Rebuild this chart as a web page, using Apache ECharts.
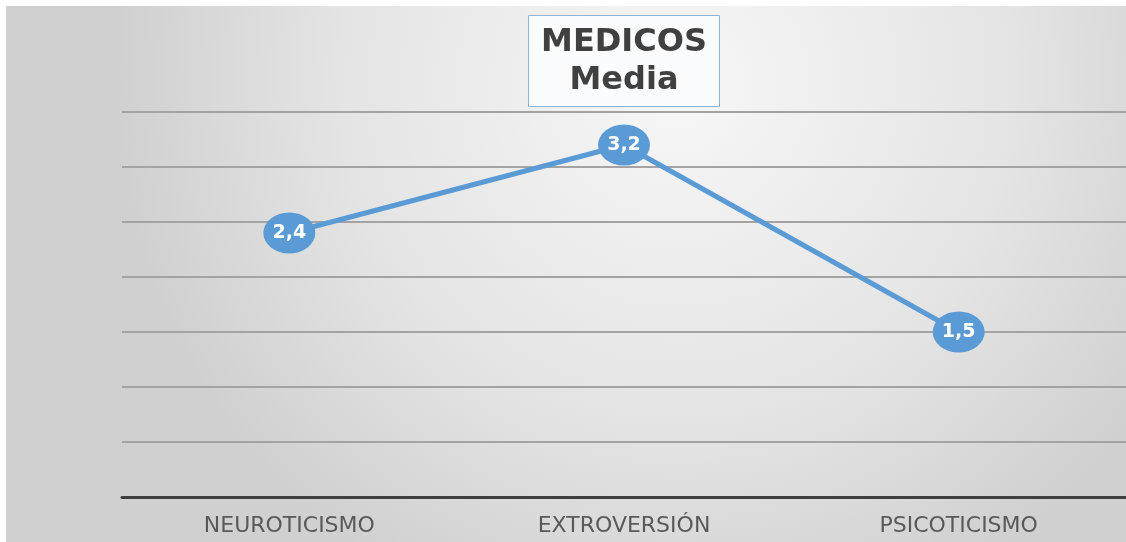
<!DOCTYPE html>
<html>
<head>
<meta charset="utf-8">
<script src="https://cdn.jsdelivr.net/npm/echarts@6/dist/echarts.min.js"></script>
<style>
  html, body { margin: 0; padding: 0; background: #fff; }
  #chart { position: absolute; left: 6px; top: 6px; width: 1120px; height: 536px; }
</style>
</head>
<body>
<div id="chart"></div>
<script>
const categories = ['NEUROTICISMO', 'EXTROVERSIÓN', 'PSICOTICISMO'];
const media = [2.4, 3.2, 1.5];
const titleLines = ['MEDICOS', 'Media'];

const myChart = echarts.init(document.getElementById('chart'));

const option = {
  backgroundColor: {
    type: 'radial', x: 0.6, y: 0.15, r: 1.05,
    colorStops: [
      { offset: 0, color: '#f7f7f7' },
      { offset: 0.6, color: '#e4e4e4' },
      { offset: 1, color: '#d0d0d0' }
    ]
  },
  title: {
    text: titleLines.join('\n'),
    left: 605,
    top: 9,
    padding: [9, 13, 7, 13],
    backgroundColor: '#f9fbfd',
    borderColor: '#8fb3d4',
    borderWidth: 1,
    textAlign: 'center',
    textStyle: {
      fontFamily: 'DejaVu Sans',
      fontWeight: 'bold',
      fontSize: 32,
      lineHeight: 38,
      color: '#404040'
    }
  },
  grid: { left: 116, right: 0, top: 106, bottom: 45 },
  xAxis: {
    type: 'category',
    data: categories,
    boundaryGap: true,
    axisTick: { show: false },
    axisLine: { lineStyle: { color: '#3f3f3f', width: 3 } },
    axisLabel: {
      margin: 18,
      fontFamily: 'DejaVu Sans',
      fontSize: 22,
      color: '#595959'
    }
  },
  yAxis: {
    type: 'value',
    min: 0,
    max: 3.5,
    interval: 0.5,
    axisLabel: { show: false },
    axisLine: { show: false },
    axisTick: { show: false },
    splitLine: { lineStyle: { color: '#a3a3a3', width: 2 } }
  },
  series: [{
    type: 'line',
    data: media,
    symbol: 'circle',
    symbolSize: [52, 41],
    lineStyle: { color: '#5b9bd5', width: 5 },
    itemStyle: { color: '#5b9bd5' },
    label: {
      show: true,
      position: 'inside',
      formatter: p => String(p.value).replace('.', ','),
      color: '#fff',
      fontFamily: 'DejaVu Sans',
      fontWeight: 'bold',
      fontSize: 19
    },
    z: 5
  }]
};

myChart.setOption(option);
</script>
</body>
</html>
